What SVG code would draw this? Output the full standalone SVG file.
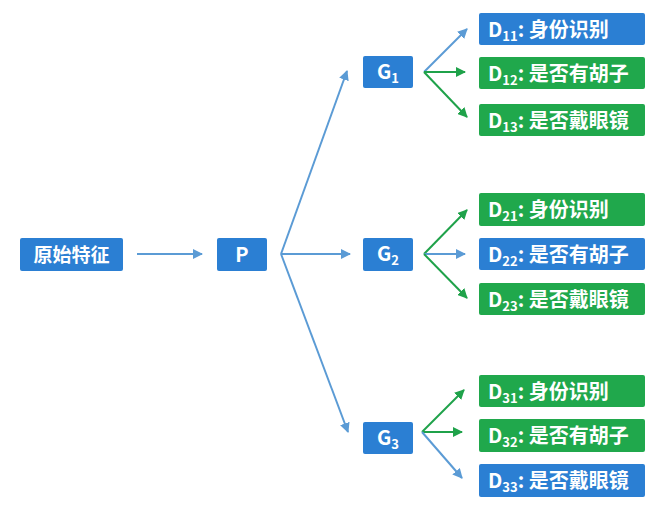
<svg xmlns="http://www.w3.org/2000/svg" width="650" height="506" viewBox="0 0 650 506">
<style>
.b{fill:#2B7FD3}
.g{fill:#20A84C}
.t{font-family:"Noto Sans CJK SC","Noto Sans",sans-serif;font-weight:bold;font-size:20px;fill:#fff}
.s{font-size:13px}
.lb{stroke:#5B9BD5;stroke-width:2;fill:none}
.lg{stroke:#1FA24A;stroke-width:2;fill:none}
</style>
<defs>
<marker id="ab" viewBox="0 0 10 10" refX="9" refY="5" markerWidth="5" markerHeight="5" orient="auto"><path d="M0,0L10,5L0,10z" fill="#5B9BD5"/></marker>
<marker id="ag" viewBox="0 0 10 10" refX="9" refY="5" markerWidth="5" markerHeight="5" orient="auto"><path d="M0,0L10,5L0,10z" fill="#1FA24A"/></marker>
</defs>
<rect width="650" height="506" fill="#fff"/>
<g id="connectors">
<path class="lb" d="M137,254H202" marker-end="url(#ab)"/>
<path class="lb" d="M281,254L347,71" marker-end="url(#ab)"/>
<path class="lb" d="M281,254H350" marker-end="url(#ab)"/>
<path class="lb" d="M281,254L348,432" marker-end="url(#ab)"/>
<path class="lb" d="M424,72L467,29" marker-end="url(#ab)"/>
<path class="lg" d="M424,72H465" marker-end="url(#ag)"/>
<path class="lg" d="M424,72L467,117" marker-end="url(#ag)"/>
<path class="lg" d="M424,254L467,210" marker-end="url(#ag)"/>
<path class="lb" d="M424,254H465" marker-end="url(#ab)"/>
<path class="lg" d="M424,254L467,298" marker-end="url(#ag)"/>
<path class="lg" d="M422,432L464,390" marker-end="url(#ag)"/>
<path class="lg" d="M422,432H462" marker-end="url(#ag)"/>
<path class="lb" d="M422,432L462,478" marker-end="url(#ab)"/>
</g>
<g id="src"><rect class="b" x="20" y="238" width="103" height="33" rx="2"/><text class="t" x="71.5" y="261.5" text-anchor="middle" style="font-size:19px">原始特征</text></g>
<g id="P"><rect class="b" x="217" y="238" width="50" height="33" rx="2"/><text class="t" x="242" y="261.5" text-anchor="middle">P</text></g>
<g id="G1"><rect class="b" x="363" y="56" width="50" height="32" rx="2"/><text class="t" x="388" y="79" text-anchor="middle">G<tspan class="s" dy="4">1</tspan></text></g>
<g id="G2"><rect class="b" x="363" y="238" width="50" height="33" rx="2"/><text class="t" x="388" y="261" text-anchor="middle">G<tspan class="s" dy="4">2</tspan></text></g>
<g id="G3"><rect class="b" x="363" y="422" width="50" height="32" rx="2"/><text class="t" x="388" y="445" text-anchor="middle">G<tspan class="s" dy="4">3</tspan></text></g>
<g id="D11"><rect class="b" x="479" y="13" width="166" height="32" rx="2"/><text class="t" x="488" y="36.5">D<tspan class="s" dy="4">11</tspan><tspan dy="-4">: 身份识别</tspan></text></g>
<g id="D12"><rect class="g" x="479" y="57" width="166" height="32" rx="2"/><text class="t" x="488" y="80.5">D<tspan class="s" dy="4">12</tspan><tspan dy="-4">: 是否有胡子</tspan></text></g>
<g id="D13"><rect class="g" x="479" y="104" width="166" height="32" rx="2"/><text class="t" x="488" y="127.5">D<tspan class="s" dy="4">13</tspan><tspan dy="-4">: 是否戴眼镜</tspan></text></g>
<g id="D21"><rect class="g" x="479" y="193" width="166" height="33" rx="2"/><text class="t" x="488" y="216.5">D<tspan class="s" dy="4">21</tspan><tspan dy="-4">: 身份识别</tspan></text></g>
<g id="D22"><rect class="b" x="479" y="238" width="166" height="32" rx="2"/><text class="t" x="488" y="261.5">D<tspan class="s" dy="4">22</tspan><tspan dy="-4">: 是否有胡子</tspan></text></g>
<g id="D23"><rect class="g" x="479" y="283" width="166" height="32" rx="2"/><text class="t" x="488" y="306.5">D<tspan class="s" dy="4">23</tspan><tspan dy="-4">: 是否戴眼镜</tspan></text></g>
<g id="D31"><rect class="g" x="479" y="375" width="166" height="32" rx="2"/><text class="t" x="488" y="398.5">D<tspan class="s" dy="4">31</tspan><tspan dy="-4">: 身份识别</tspan></text></g>
<g id="D32"><rect class="g" x="479" y="419" width="166" height="33" rx="2"/><text class="t" x="488" y="442.5">D<tspan class="s" dy="4">32</tspan><tspan dy="-4">: 是否有胡子</tspan></text></g>
<g id="D33"><rect class="b" x="479" y="464" width="166" height="33" rx="2"/><text class="t" x="488" y="487.5">D<tspan class="s" dy="4">33</tspan><tspan dy="-4">: 是否戴眼镜</tspan></text></g>
</svg>
